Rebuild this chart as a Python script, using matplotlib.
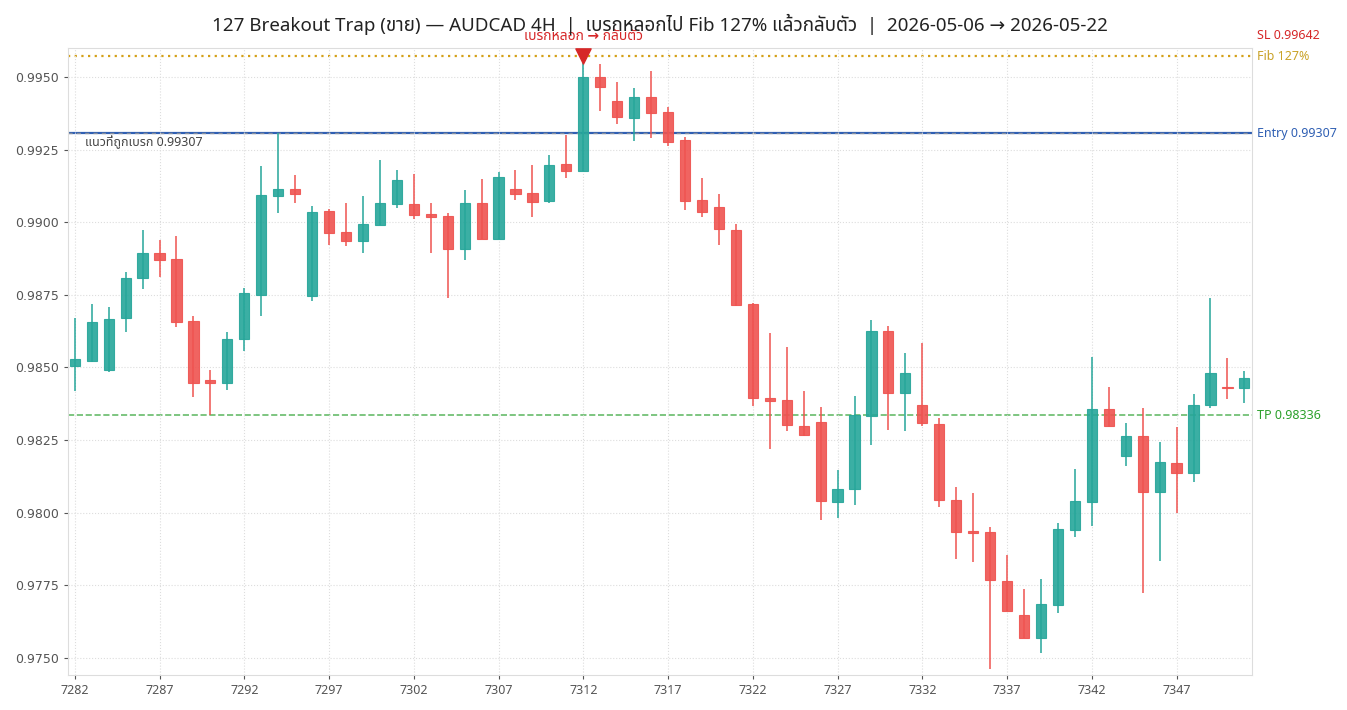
import numpy as np
import matplotlib
matplotlib.use("Agg")
import matplotlib.pyplot as plt
import matplotlib.ticker as mticker

plt.rcParams["font.family"] = ["Noto Sans Thai", "Noto Sans", "DejaVu Sans"]

# OHLC
bar_start = 7282
opens = [0.98506, 0.98523, 0.98491, 0.98669, 0.98809, 0.98894, 0.98873, 0.98660, 0.98456, 0.98448,
         0.98597, 0.98749, 0.99091, 0.99114, 0.98747, 0.99038, 0.98966, 0.98936, 0.98992, 0.99064,
         0.99063, 0.99028, 0.99021, 0.98909, 0.99066, 0.98943, 0.99114, 0.99101, 0.99074, 0.99199,
         0.99177, 0.99500, 0.99416, 0.99360, 0.99430, 0.99378, 0.99282, 0.99075, 0.99052, 0.98975,
         0.98719, 0.98396, 0.98387, 0.98300, 0.98313, 0.98038, 0.98083, 0.98332, 0.98624, 0.98411,
         0.98369, 0.98307, 0.98045, 0.97936, 0.97932, 0.97765, 0.97648, 0.97570, 0.97681, 0.97942,
         0.98038, 0.98357, 0.98196, 0.98264, 0.98072, 0.98170, 0.98136, 0.98369, 0.98432, 0.98430]
highs = [0.98669, 0.98718, 0.98709, 0.98828, 0.98972, 0.98938, 0.98952, 0.98676, 0.98492, 0.98621,
         0.98775, 0.99193, 0.99307, 0.99162, 0.99055, 0.99047, 0.99065, 0.99089, 0.99214, 0.99179,
         0.99167, 0.99065, 0.99033, 0.99110, 0.99149, 0.99172, 0.99180, 0.99196, 0.99230, 0.99299,
         0.99555, 0.99544, 0.99482, 0.99461, 0.99520, 0.99398, 0.99292, 0.99151, 0.99098, 0.98995,
         0.98722, 0.98617, 0.98571, 0.98420, 0.98364, 0.98147, 0.98403, 0.98662, 0.98643, 0.98550,
         0.98585, 0.98327, 0.98090, 0.98068, 0.97950, 0.97853, 0.97738, 0.97771, 0.97964, 0.98150,
         0.98537, 0.98434, 0.98310, 0.98360, 0.98245, 0.98296, 0.98409, 0.98739, 0.98532, 0.98489]
lows = [0.98419, 0.98519, 0.98483, 0.98623, 0.98771, 0.98811, 0.98638, 0.98397, 0.98336, 0.98423,
        0.98558, 0.98677, 0.99031, 0.99065, 0.98730, 0.98922, 0.98918, 0.98894, 0.98990, 0.99048,
        0.99010, 0.98895, 0.98738, 0.98869, 0.98943, 0.98943, 0.99076, 0.99017, 0.99067, 0.99153,
        0.99177, 0.99382, 0.99337, 0.99281, 0.99289, 0.99261, 0.99042, 0.99019, 0.98920, 0.98712,
        0.98368, 0.98219, 0.98281, 0.98265, 0.97974, 0.97981, 0.98025, 0.98234, 0.98286, 0.98281,
        0.98300, 0.98020, 0.97841, 0.97831, 0.97463, 0.97660, 0.97568, 0.97518, 0.97654, 0.97915,
        0.97955, 0.98296, 0.98161, 0.97723, 0.97832, 0.97998, 0.98105, 0.98360, 0.98390, 0.98377]
closes = [0.98529, 0.98656, 0.98667, 0.98807, 0.98894, 0.98871, 0.98658, 0.98448, 0.98448, 0.98597,
          0.98755, 0.99094, 0.99114, 0.99098, 0.99034, 0.98964, 0.98936, 0.98994, 0.99066, 0.99145,
          0.99026, 0.99019, 0.98909, 0.99066, 0.98943, 0.99156, 0.99098, 0.99071, 0.99197, 0.99177,
          0.99500, 0.99467, 0.99363, 0.99430, 0.99377, 0.99277, 0.99074, 0.99035, 0.98977, 0.98715,
          0.98395, 0.98384, 0.98301, 0.98267, 0.98040, 0.98083, 0.98335, 0.98624, 0.98411, 0.98482,
          0.98308, 0.98045, 0.97933, 0.97929, 0.97767, 0.97663, 0.97570, 0.97685, 0.97943, 0.98040,
          0.98357, 0.98300, 0.98264, 0.98072, 0.98174, 0.98136, 0.98370, 0.98480, 0.98429, 0.98463]

# levels
entry = 0.99307
sl = 0.99642
tp = 0.98336
fib127 = 0.99572
trap_bar = 7312

title = "127 Breakout Trap (ขาย) — AUDCAD 4H  |  เบรกหลอกไป Fib 127% แล้วกลับตัว  |  2026-05-06 → 2026-05-22"

up_col = "#26a69a"
dn_col = "#ef5350"

x = np.arange(bar_start, bar_start + len(opens))
o = np.array(opens); h = np.array(highs); l = np.array(lows); c = np.array(closes)
up = c >= o
cols = np.where(up, up_col, dn_col)

fig = plt.figure(figsize=(13.47, 7.10), dpi=100)
ax = fig.add_axes([68 / 1347, 35 / 710, (1252 - 68) / 1347, (675 - 48) / 710])

ax.vlines(x, l, h, colors=cols, linewidth=1.1, zorder=2)
body_lo = np.minimum(o, c)
body_h = np.maximum(np.abs(c - o), 0.00004)
ax.bar(x, body_h, bottom=body_lo, width=0.6, color=cols, edgecolor=cols,
       linewidth=0.8, alpha=0.9, zorder=3)

# levels
ax.axhline(fib127, color="#d4a017", linestyle=(0, (1, 2)), linewidth=1.6, zorder=1)
ax.axhline(entry, color="#2f5fb3", linewidth=1.6, zorder=1)
ax.axhline(entry, color="#999999", linestyle=(0, (3, 3)), linewidth=1.0, alpha=0.8, zorder=1)
ax.axhline(tp, color="#4caf50", linestyle="--", linewidth=1.2, alpha=0.85, zorder=1)
ax.axhline(sl, color="#d62728", linestyle="--", linewidth=1.2, zorder=1)

ax.text(7282.6, entry - 0.00032, f"แนวที่ถูกเบรก {entry:.5f}", fontsize=9, color="#444444",
        va="center", ha="left")

ax.scatter([trap_bar], [highs[trap_bar - bar_start] + 0.00017], marker="v", s=120,
           color="#d62728", zorder=5, clip_on=False)
ax.text(trap_bar, highs[trap_bar - bar_start] + 0.00085, "เบรกหลอก → กลับตัว", fontsize=10,
        color="#d62728", fontweight="bold", ha="center", va="center", clip_on=False)

trans = ax.get_yaxis_transform()
for val, txt, col in [(sl, f"SL {sl:.5f}", "#d62728"), (fib127, "Fib 127%", "#c9a227"),
                      (entry, f"Entry {entry:.5f}", "#2f5fb3"), (tp, f"TP {tp:.5f}", "#2ca02c")]:
    ax.text(1.004, val, txt, transform=trans, fontsize=9, color=col, va="center", ha="left",
            clip_on=False)

ax.set_xlim(7281.6, 7351.45)
ax.set_ylim(0.97441, 0.99600)
ax.set_xticks(np.arange(7282, 7352, 5))
ax.set_yticks(np.arange(0.9750, 0.99501, 0.0025))
ax.yaxis.set_major_formatter(mticker.FormatStrFormatter("%.4f"))
for lab in ax.get_yticklabels():
    lab.set_fontfamily("DejaVu Sans")
ax.tick_params(labelsize=9, colors="#555555", length=3)
ax.grid(True, linestyle=":", color="#dddddd", linewidth=0.8)
for s in ax.spines.values():
    s.set_color("#dddddd")

fig.text(660 / 1347, 1 - 24 / 710, title, fontsize=13.5, color="#222222", ha="center", va="center")

fig.savefig("out.png", dpi=100)
